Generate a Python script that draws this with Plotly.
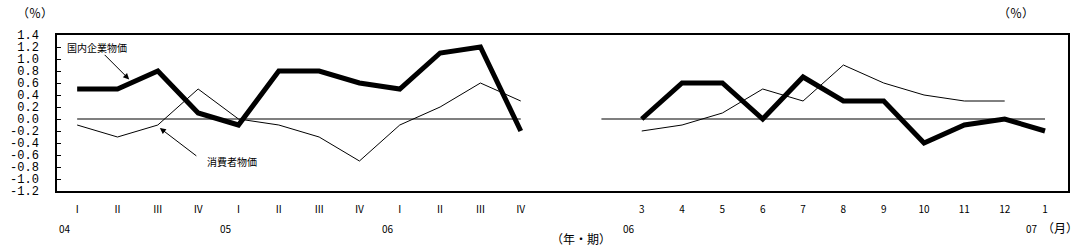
import plotly.graph_objects as go

# ---- data ----
quarters = ["Ⅰ", "Ⅱ", "Ⅲ", "Ⅳ", "Ⅰ", "Ⅱ", "Ⅲ", "Ⅳ", "Ⅰ", "Ⅱ", "Ⅲ", "Ⅳ"]
quarter_years = {0: "04", 4: "05", 8: "06"}
cgpi_q = [0.5, 0.5, 0.8, 0.1, -0.1, 0.8, 0.8, 0.6, 0.5, 1.1, 1.2, -0.2]
cpi_q = [-0.1, -0.3, -0.1, 0.5, 0.0, -0.1, -0.3, -0.7, -0.1, 0.2, 0.6, 0.3]

months = ["3", "4", "5", "6", "7", "8", "9", "10", "11", "12", "1"]
month_years = {0: "06", 10: "07"}
cgpi_m = [0.0, 0.6, 0.6, 0.0, 0.7, 0.3, 0.3, -0.4, -0.1, 0.0, -0.2]
cpi_m = [-0.2, -0.1, 0.1, 0.5, 0.3, 0.9, 0.6, 0.4, 0.3, 0.3]

y_ticks = [1.4, 1.2, 1.0, 0.8, 0.6, 0.4, 0.2, 0.0, -0.2, -0.4, -0.6, -0.8, -1.0, -1.2]
y_ticktext = ["%.1f" % v for v in y_ticks]

# ---- positions on a shared axis ----
gap = 2
xq = list(range(len(quarters)))
xm = [len(quarters) + gap + i for i in range(len(months))]

black = "#000000"
numfont = "Liberation Mono"
jpfont = "Noto Sans CJK JP"

W, H = 1080, 250
L, R, T, B = 56, 10, 35, 59

def px(x):
    return (x - L) / (W - L - R)

def py(y):
    return 1 - (y - T) / (H - T - B)

fig = go.Figure()
# zero reference lines
fig.add_trace(go.Scatter(x=[xq[0], xq[-1]], y=[0, 0], mode="lines",
                         line=dict(color=black, width=1.2)))
fig.add_trace(go.Scatter(x=[xm[0] - 1, xm[-1]], y=[0, 0], mode="lines",
                         line=dict(color=black, width=1.2)))
# CPI (thin)
fig.add_trace(go.Scatter(x=xq, y=cpi_q, mode="lines", line=dict(color=black, width=1)))
fig.add_trace(go.Scatter(x=xm[:len(cpi_m)], y=cpi_m, mode="lines", line=dict(color=black, width=1)))
# CGPI (thick)
fig.add_trace(go.Scatter(x=xq, y=cgpi_q, mode="lines", line=dict(color=black, width=5)))
fig.add_trace(go.Scatter(x=xm, y=cgpi_m, mode="lines", line=dict(color=black, width=5)))

annotations = []
small = dict(family=jpfont, size=10, color=black)
mid = dict(family=jpfont, size=12, color=black)
# year labels
for i, t in quarter_years.items():
    annotations.append(dict(x=xq[i], y=0, xref="x", yref="paper", yshift=-37, xshift=-12,
                            xanchor="center", yanchor="middle",
                            text=t, showarrow=False, font=small))
for i, t in month_years.items():
    annotations.append(dict(x=xm[i], y=0, xref="x", yref="paper", yshift=-37, xshift=-13,
                            xanchor="center", yanchor="middle",
                            text=t, showarrow=False, font=small))
for txt, x, y in [("（月）", 1062, 227), ("（年・期）", 582, 238), ("（％）", 34, 12), ("（％）", 1018, 12)]:
    annotations.append(dict(x=px(x), y=py(y), xref="paper", yref="paper", text=txt,
                            xanchor="center", yanchor="middle", showarrow=False, font=mid))

# series labels with arrows
annotations.append(dict(x=0.49, y=1.2, xref="x", yref="y", text="国内企業物価", showarrow=False,
                        xanchor="center", yanchor="middle", font=small))
annotations.append(dict(x=1.29, y=0.66, xref="x", yref="y", text="", showarrow=True,
                        ax=-26, ay=-26, arrowhead=2, arrowsize=1.2, arrowwidth=1, arrowcolor=black))
annotations.append(dict(x=3.83, y=-0.71, xref="x", yref="y", text="消費者物価", showarrow=False,
                        xanchor="center", yanchor="middle", font=small))
annotations.append(dict(x=2.05, y=-0.15, xref="x", yref="y", text="", showarrow=True,
                        ax=38, ay=29, arrowhead=2, arrowsize=1.2, arrowwidth=1, arrowcolor=black))

fig.update_layout(
    width=W, height=H,
    margin=dict(l=L, r=R, t=T, b=B),
    paper_bgcolor="white", plot_bgcolor="white",
    showlegend=False, hovermode=False,
    annotations=annotations,
    xaxis=dict(range=[-0.5, xm[-1] + 0.57], tickvals=xq + xm, ticktext=quarters + months,
               showgrid=False, zeroline=False, showline=True, linecolor=black, linewidth=1.5,
               mirror=True, ticks="", ticklabelstandoff=8,
               tickfont=dict(family=jpfont, size=10, color=black)),
    yaxis=dict(range=[-1.2, 1.4], tickvals=y_ticks, ticktext=y_ticktext,
               showgrid=False, zeroline=False, showline=True, linecolor=black, linewidth=1.5,
               mirror=True, ticks="inside", ticklen=4, tickcolor=black, tickwidth=1,
               ticklabelstandoff=14,
               tickfont=dict(family=numfont, size=12, color=black)),
)

fig.write_html("out.html")
